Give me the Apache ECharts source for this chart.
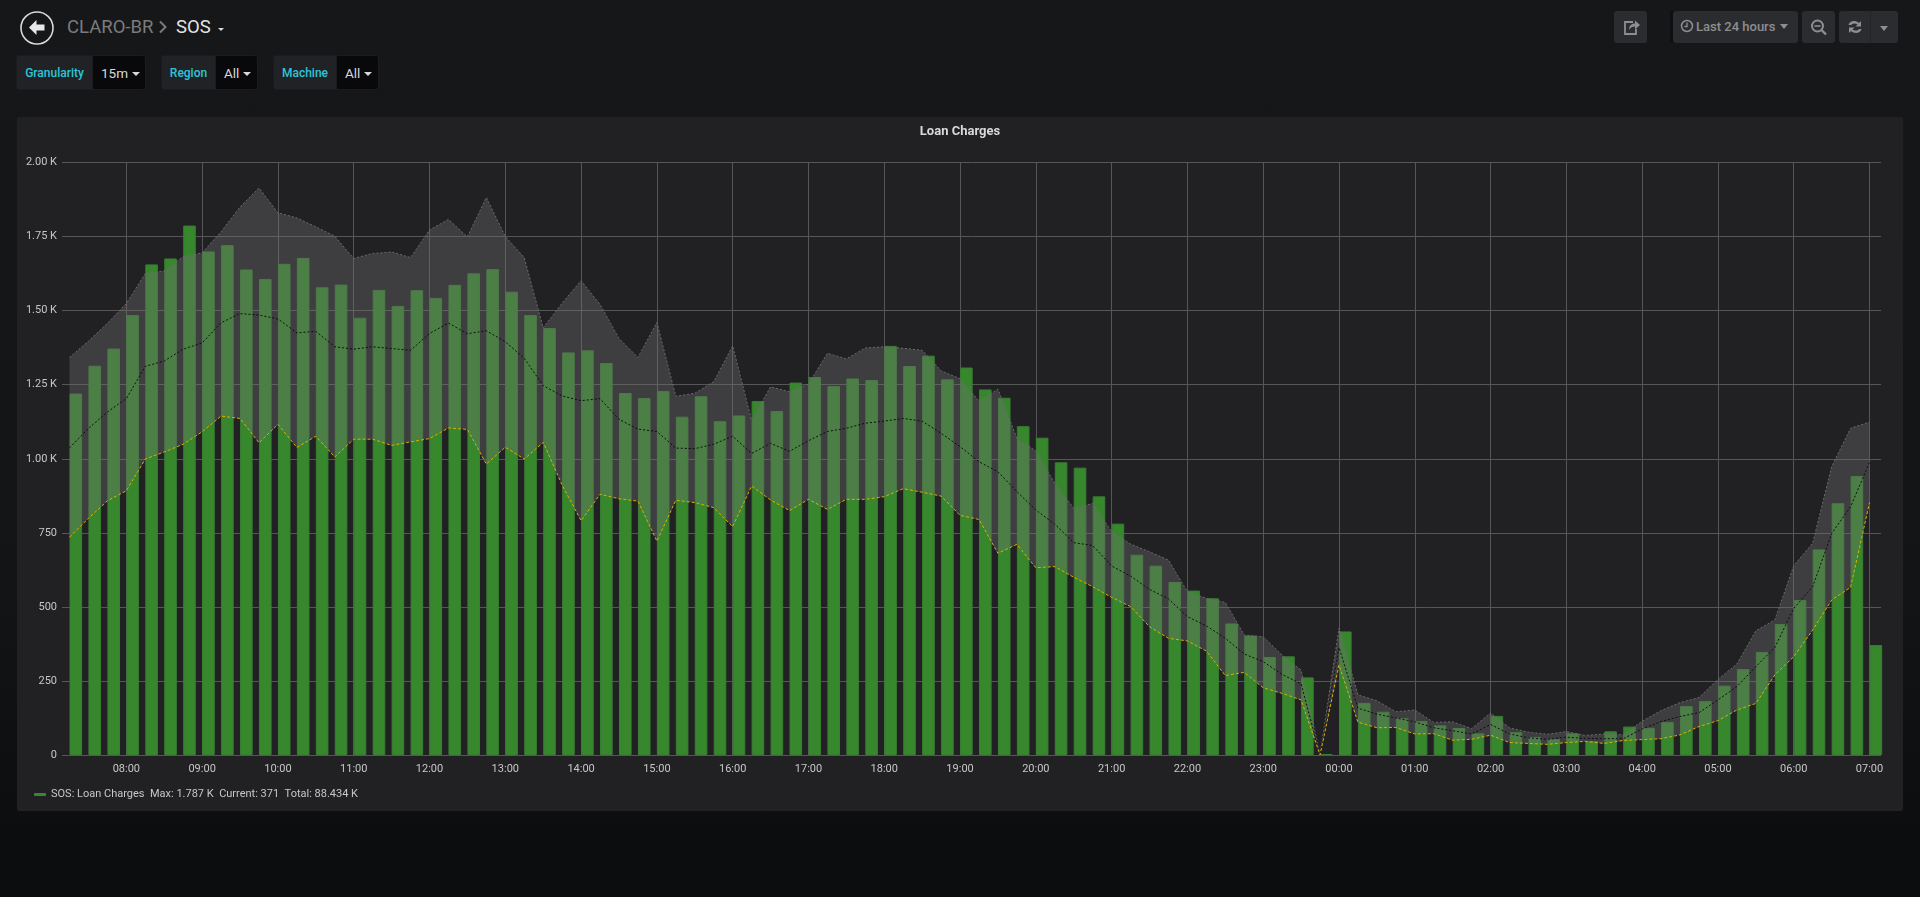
<!DOCTYPE html>
<html>
<head>
<meta charset="utf-8">
<script src="https://cdn.jsdelivr.net/npm/echarts@6/dist/echarts.min.js"></script>
<style>
html,body{margin:0;padding:0;width:1920px;height:897px;overflow:hidden;background:linear-gradient(180deg,#161719 0%,#141517 60%,#0b0c0e 100%);font-family:Roboto,sans-serif;}
.abs{position:absolute;box-sizing:border-box;white-space:nowrap;}
#panel{left:17px;top:117px;width:1886px;height:694px;background:#212124;border-radius:2px;}
#chart{left:0;top:0;width:1920px;height:897px;}
.crumb{font-size:18.5px;line-height:26px;top:14px;}
.vl{top:55px;height:35px;background:#212225;border:1px solid #1b1c1e;border-radius:3px 0 0 3px;color:#2cc6d9;font-weight:500;font-size:12px;line-height:34px;text-align:center;}
.vv{top:55px;height:35px;background:#09090b;border:1px solid #1b1c1e;border-left:0;border-radius:0 3px 3px 0;color:#d8d9da;font-size:13.5px;line-height:35px;padding-left:8px;}
.car{display:inline-block;width:0;height:0;border-left:4px solid transparent;border-right:4px solid transparent;border-top:4px solid #d8d9da;vertical-align:2px;margin-left:4px;}
.btn{top:11px;height:32px;background:#2b2c2f;border-radius:3px;}
</style>
</head>
<body>
<svg class="abs" style="left:19px;top:10px" width="36" height="36" viewBox="0 0 36 36">
<circle cx="18" cy="18" r="16" fill="none" stroke="#d8d9da" stroke-width="1.6"/>
<path d="M17.5 10 L10 17.5 L17.5 25 L17.5 20.5 L25.5 20.5 L25.5 14.5 L17.5 14.5 Z" fill="#e8e8e8"/>
</svg>
<div class="abs crumb" style="left:67px;color:#7b7b7e">CLARO-BR</div>
<svg class="abs" style="left:158px;top:20px" width="10" height="14" viewBox="0 0 10 14"><path d="M2 1.5 L7.5 7 L2 12.5" fill="none" stroke="#7b7b7e" stroke-width="2"/></svg>
<div class="abs crumb" style="left:176px;color:#e3e3e3">SOS</div>
<div class="abs" style="left:218px;top:28px;width:0;height:0;border-left:3px solid transparent;border-right:3px solid transparent;border-top:3px solid #d8d9da"></div>

<div class="abs vl" style="left:16px;width:77px">Granularity</div>
<div class="abs vv" style="left:93px;width:53px">15m<span class="car"></span></div>
<div class="abs vl" style="left:161px;width:55px">Region</div>
<div class="abs vv" style="left:216px;width:42px">All<span class="car"></span></div>
<div class="abs vl" style="left:273px;width:64px">Machine</div>
<div class="abs vv" style="left:337px;width:42px">All<span class="car"></span></div>

<div class="abs btn" style="left:1614px;width:33px">
<svg width="33" height="32" viewBox="0 0 33 32"><path d="M19 11 H11 V23 H22 V18" fill="none" stroke="#8e8e90" stroke-width="1.8"/><path d="M15 19 C15 14 18 12.5 21 12.5 V9.5 L26 14 L21 18.5 V15.5 C18.5 15.5 16.5 16 15 19 Z" fill="#8e8e90"/></svg>
</div>
<div class="abs" style="left:1670px;top:11px;width:4px;height:32px;background:#0e0f10"></div>
<div class="abs btn" style="left:1673px;width:125px;color:#8e8e90;font-size:13px;font-weight:500;line-height:31px;">
<svg class="abs" style="left:7px;top:8px" width="14" height="14" viewBox="0 0 14 14"><circle cx="7" cy="7" r="5.5" fill="none" stroke="#8e8e90" stroke-width="1.5"/><path d="M7 3.5 V7.5 H4.5" fill="none" stroke="#8e8e90" stroke-width="1.3"/></svg>
<span class="abs" style="left:23px">Last 24 hours</span>
<span class="abs" style="left:107px;top:13px;width:0;height:0;border-left:4px solid transparent;border-right:4px solid transparent;border-top:5px solid #8e8e90"></span>
</div>
<div class="abs btn" style="left:1802px;width:33px">
<svg width="33" height="32" viewBox="0 0 33 32"><circle cx="15.5" cy="15" r="5.5" fill="none" stroke="#8e8e90" stroke-width="2"/><path d="M19.5 19 L24 23.5" stroke="#8e8e90" stroke-width="2.4"/><path d="M12.5 15 H18.5" stroke="#8e8e90" stroke-width="1.6"/></svg>
</div>
<div class="abs btn" style="left:1839px;width:59px">
<svg class="abs" style="left:0;top:0" width="32" height="32" viewBox="0 0 32 32"><path d="M9.5 14 C10.5 10 16 8.5 20 12 L22 10 V15.5 H16.5 L18.5 13.5 C16 11.5 13 12.5 12 14 Z" fill="#8e8e90"/><path d="M22.5 18 C21.5 22 16 23.5 12 20 L10 22 V16.5 H15.5 L13.5 18.5 C16 20.5 19 19.5 20 18 Z" fill="#8e8e90"/></svg>
<div class="abs" style="left:31px;top:0;width:1px;height:32px;background:#232427"></div>
<span class="abs" style="left:41px;top:15px;width:0;height:0;border-left:4px solid transparent;border-right:4px solid transparent;border-top:5px solid #8e8e90"></span>
</div>

<div id="panel" class="abs"></div>
<div id="chart" class="abs"></div>

<script>
// 15-minute buckets from 07:15 to 07:00 the next day
const seriesName = 'SOS: Loan Charges';
const panelTitle = 'Loan Charges';
const legendStats = 'Max: 1.787 K  Current: 371  Total: 88.434 K';
const firstBucket = Date.UTC(2019, 0, 1, 7, 15);
const bucketMs = 15 * 60 * 1000;
// ECharts widens a time axis by the bars' overflow; these bounds end up as 07:09 → 07:09 next day
const axisStart = Date.UTC(2019, 0, 1, 7, 19, 2);
const axisEnd = Date.UTC(2019, 0, 2, 6, 59, 6);

const loanCharges = [
 1220,1314,1372,1485,1656,1676,1787,1700,1721,1639,1607,1658,1678,1579,1588,1476,1570,1516,1569,1543,1587,1626,1640,
 1564,1485,1441,1359,1366,1323,1222,1205,1229,1142,1211,1127,1146,1195,1161,1257,1276,1245,1271,1266,1381,1313,1348,1268,1308,
 1234,1206,1110,1071,988,970,873,781,676,639,584,555,529,444,403,331,333,262,3,
 417,176,146,124,115,100,91,73,132,77,61,54,73,47,80,96,92,111,165,182,234,290,348,442,523,694,850,942,371
];
const baselineMax = [
 1342,1397,1457,1524,1625,1634,1682,1695,1766,1850,1914,1830,1813,1783,1751,1676,1693,1698,1679,1772,1808,1749,1882,
 1750,1679,1442,1525,1601,1521,1406,1342,1460,1211,1221,1260,1381,1129,1243,1226,1252,1356,1337,1374,1378,1373,1366,1297,1270,
 1195,1235,1069,1026,917,833,849,754,712,686,658,551,529,515,405,399,337,287,1,
 428,203,183,146,152,110,112,89,142,92,77,70,79,66,71,68,114,150,177,194,255,307,419,456,639,715,973,1103,1124
];
const baselineMean = [
 1037,1102,1158,1203,1312,1330,1370,1391,1459,1490,1485,1472,1425,1430,1378,1370,1378,1372,1366,1423,1458,1422,1432,
 1395,1339,1247,1212,1196,1203,1133,1100,1092,1036,1034,1049,1076,1018,1052,1025,1061,1092,1103,1120,1127,1136,1127,1086,1041,
 990,956,889,827,779,717,707,638,604,559,527,467,436,394,341,315,272,240,0,
 363,158,138,125,112,92,82,71,103,71,58,53,60,56,55,55,88,113,130,143,186,231,298,363,495,568,748,838,988
];
const baselineMin = [
 735,799,858,892,999,1023,1049,1091,1144,1136,1054,1116,1038,1076,1006,1066,1066,1045,1057,1068,1104,1099,982,
 1039,999,1055,911,791,880,865,857,722,860,852,835,771,908,861,825,863,829,863,863,872,899,887,874,809,
 795,681,711,632,636,600,568,532,501,433,394,385,351,268,279,227,208,186,0,
 304,111,92,93,71,72,50,53,67,42,39,36,42,46,39,49,52,55,68,96,116,152,174,270,332,422,523,566,852
];

const times = loanCharges.map((_, i) => firstBucket + i * bucketMs);
const pair = arr => arr.map((v, i) => [times[i], v]);
const bandHeight = baselineMax.map((v, i) => v - baselineMin[i]);

const fmtY = v => v >= 1000 ? (v / 1000).toFixed(2) + ' K' : String(v);
const pad = n => (n < 10 ? '0' : '') + n;
const fmtX = v => { const d = new Date(v); return pad(d.getUTCHours()) + ':' + pad(d.getUTCMinutes()); };

const chart = echarts.init(document.getElementById('chart'), null, {width:1920, height:897});
const font = 'Roboto, sans-serif';
const BAR_W = 12.6;
chart.setOption({
  backgroundColor: 'transparent',
  animation: false,
  useUTC: true,
  textStyle: {fontFamily: font},
  title: {
    text: panelTitle, left: 'center', top: 120,
    textStyle: {color: '#d8d9da', fontSize: 13, fontWeight: 'bold', fontFamily: font}
  },
  grid: {left: 62, right: 39, top: 162.5, bottom: 142, containLabel: false},
  legend: {
    left: 29, top: 784, icon: 'roundRect', itemWidth: 12, itemHeight: 3,
    data: [seriesName],
    formatter: name => name + '  ' + legendStats,
    textStyle: {color: '#c7c7c7', fontSize: 11, fontFamily: font},
    itemStyle: {borderWidth: 0}
  },
  xAxis: {
    type: 'time', min: axisStart, max: axisEnd,
    minInterval: 3600000, maxInterval: 3600000,
    axisLine: {show: false}, axisTick: {show: false},
    axisLabel: {color: '#c7c7c7', fontSize: 11, fontFamily: font, margin: 9, formatter: fmtX, showMinLabel: false, showMaxLabel: false, hideOverlap: false},
    splitLine: {show: true, showMinLine: false, showMaxLine: false, lineStyle: {color: '#565658', width: 1}}
  },
  yAxis: {
    type: 'value', min: 0, max: 2000, interval: 250,
    axisLine: {show: false}, axisTick: {show: false},
    axisLabel: {color: '#c7c7c7', fontSize: 11, fontFamily: font, margin: 5, formatter: fmtY},
    splitLine: {show: true, lineStyle: {color: '#565658', width: 1}}
  },
  series: [
    // empty companion so the real bar starts at its timestamp, as the panel draws it
    {name: 'spacer', type: 'bar', data: [], barWidth: BAR_W, barGap: '0%', silent: true, z: 2},
    {name: seriesName, type: 'bar', data: pair(loanCharges), barWidth: BAR_W, barGap: '0%', z: 2,
     itemStyle: {color: '#37872d', borderColor: '#3b7d35', borderWidth: 1}},
    {name: 'band base', type: 'line', stack: 'band', data: pair(baselineMin), showSymbol: false, lineStyle: {opacity: 0}, z: 3, silent: true},
    {name: 'band', type: 'line', stack: 'band', data: pair(bandHeight), showSymbol: false, lineStyle: {opacity: 0},
     areaStyle: {color: 'rgba(113,113,113,0.36)', opacity: 1}, z: 3, silent: true},
    {name: 'Baseline max', type: 'line', data: pair(baselineMax), showSymbol: false, z: 4, silent: true,
     lineStyle: {color: '#6c6c6e', width: 1, type: [2, 2]}},
    {name: 'Baseline mean', type: 'line', data: pair(baselineMean), showSymbol: false, z: 4, silent: true,
     lineStyle: {color: '#0e0e0f', width: 1, type: [2, 2]}},
    {name: 'Baseline min', type: 'line', data: pair(baselineMin), showSymbol: false, z: 4, silent: true,
     lineStyle: {color: '#dcb000', width: 1, type: [3, 2]}}
  ]
});
</script>
</body>
</html>
